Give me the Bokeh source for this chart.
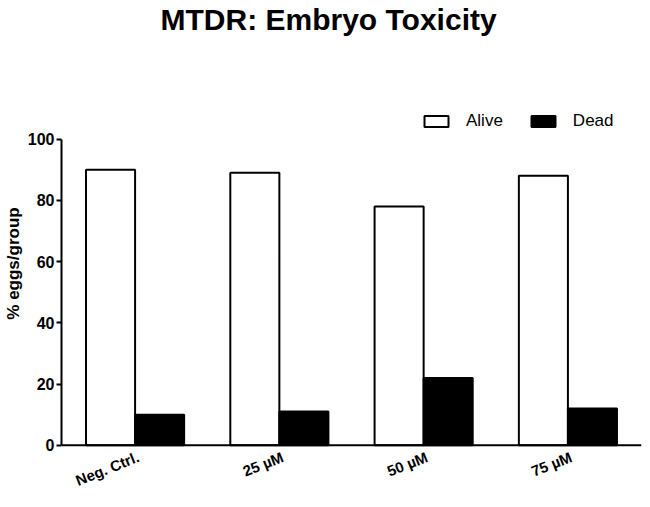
from bokeh.plotting import figure
from bokeh.models import (ColumnDataSource, Legend, LegendItem, FixedTicker,
                          Range1d, Span)
from bokeh.core.properties import value
from bokeh.transform import dodge
from bokeh.embed import file_html
from bokeh.resources import INLINE

# ---- data ----
groups = ["Neg. Ctrl.", "25 µM", "50 µM", "75 µM"]
alive = [90, 89, 78, 88]
dead = [10, 11, 22, 12]
y_ticks = [0, 20, 40, 60, 80, 100]
series_names = ["Alive", "Dead"]

pos = list(range(len(groups)))
bar_w = 0.34
FONT = "Liberation Sans"

src = ColumnDataSource(dict(x=pos, alive=alive, dead=dead, name=groups,
                            base=[0] * len(groups)))

p = figure(width=642, height=491, output_backend="svg", toolbar_location=None,
           x_range=Range1d(-0.51, len(groups) - 0.49),
           y_range=Range1d(-15.1, 133.8),
           x_axis_location=None, min_border=0,
           min_border_left=0, min_border_right=1, min_border_bottom=0,
           min_border_top=0)

p.title.text = "MTDR: Embryo Toxicity"
p.title.text_font = FONT
p.title.text_font_style = "bold"
p.title.text_font_size = "30px"
p.title.text_color = "black"
p.title.align = "left"
p.title.offset = 99
p.title.standoff = 0

r_alive = p.vbar(x=dodge("x", -bar_w / 2, range=p.x_range), top="alive",
                 width=bar_w, bottom=0, source=src, fill_color="white",
                 line_color="black", line_width=2)
r_dead = p.vbar(x=dodge("x", bar_w / 2, range=p.x_range), top="dead",
                width=bar_w, bottom=0, source=src, fill_color="black",
                line_color="black", line_width=2)

# x axis line at y = 0
p.add_layout(Span(location=0, dimension="width", line_color="black",
                  line_width=2))

# rotated category labels under the x axis line
p.text(x="x", y="base", text="name", source=src, angle=0.38,
       text_align="right", text_baseline="top", y_offset=3,
       text_font=value(FONT), text_font_style="bold",
       text_font_size="15px", text_color="black")

legend = Legend(items=[LegendItem(label=series_names[0], renderers=[r_alive]),
                       LegendItem(label=series_names[1], renderers=[r_dead])],
                orientation="horizontal", location=(360, 360),
                glyph_width=30, glyph_height=14, label_standoff=15,
                spacing=25, padding=0, margin=0,
                border_line_color=None, background_fill_alpha=0,
                label_text_font=FONT, label_text_font_size="17px",
                label_text_color="black")
p.add_layout(legend)

p.xgrid.visible = False
p.ygrid.visible = False
p.outline_line_color = None
p.background_fill_color = "white"
p.border_fill_color = "white"

ya = p.yaxis[0]
ya.ticker = FixedTicker(ticks=y_ticks)
ya.bounds = (0, 100)
ya.axis_label = "% eggs/group"
ya.axis_label_text_font = FONT
ya.axis_label_text_font_style = "bold"
ya.axis_label_text_font_size = "17px"
ya.axis_label_text_color = "black"
ya.axis_label_standoff = 2
ya.major_tick_out = 5
ya.major_tick_in = 0
ya.minor_tick_out = 0
ya.minor_tick_in = 0
ya.axis_line_width = 2
ya.major_tick_line_width = 2
ya.axis_line_color = "black"
ya.major_label_text_font = FONT
ya.major_label_text_font_style = "bold"
ya.major_label_text_font_size = "16px"
ya.major_label_text_color = "black"
ya.major_label_standoff = 2

open("out.html", "w").write(file_html(p, INLINE))
